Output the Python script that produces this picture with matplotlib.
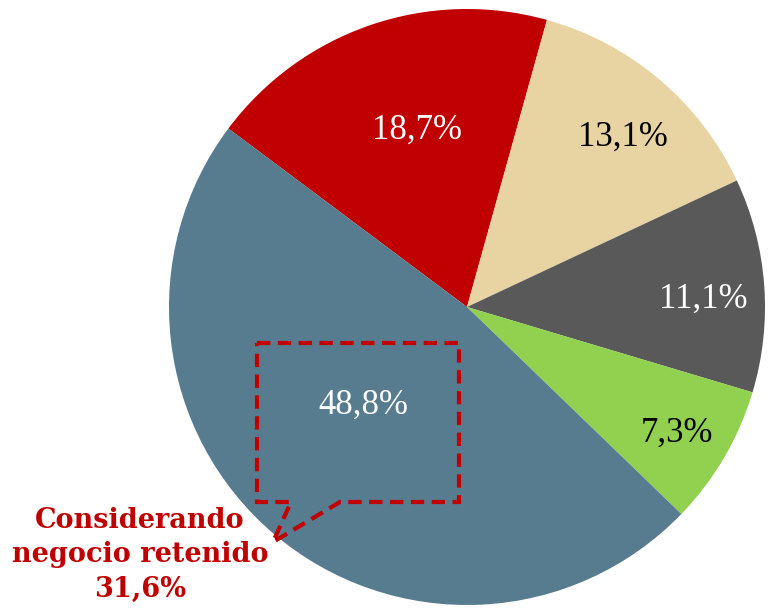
import matplotlib
matplotlib.use("Agg")
import matplotlib.pyplot as plt
from matplotlib.patches import Polygon

# Data (wedge sizes as drawn in the picture; labels as printed)
labels = ["18,7%", "13,1%", "11,1%", "7,3%", "48,8%"]
wedge_sizes = [19.1, 13.7, 11.6, 7.6, 48.0]
colors = ["#C00000", "#E8D3A2", "#595959", "#92D050", "#577C8F"]
label_colors = ["white", "black", "white", "black", "white"]
callout_text = "Considerando\nnegocio retenido\n31,6%"

W, H = 772, 610
fig = plt.figure(figsize=(W / 100, H / 100), dpi=100)
fig.patch.set_facecolor("white")

# pie centre at px (467,307), radius 298 px
cx, cy, R = 467, 307, 298
ax = fig.add_axes([(cx - R) / W, (H - cy - R) / H, 2 * R / W, 2 * R / H])

wedges, _ = ax.pie(wedge_sizes, colors=colors, startangle=143.2,
                   counterclock=False, radius=1.0,
                   wedgeprops=dict(linewidth=0))
ax.set_xlim(-1, 1)
ax.set_ylim(-1, 1)
ax.set_aspect("equal")
ax.axis("off")

def px2d(px, py):
    return ((px - cx) / R, (cy - py) / R)

label_px = [(417, 130), (623, 137), (703, 299), (677, 433), (363, 405)]
for lab, (px, py), c in zip(labels, label_px, label_colors):
    x, y = px2d(px, py)
    ax.text(x, y, lab, ha="center", va="center", color=c,
            fontsize=25, family="Liberation Serif")

# dashed callout
pts_px = [(257, 343), (459, 343), (459, 502), (340, 502), (273, 542),
          (291, 502), (257, 502)]
pts = [px2d(*p) for p in pts_px]
poly = Polygon(pts, closed=True, fill=False, edgecolor="#C00000",
               linewidth=3, linestyle=(0, (3.2, 1.8)), clip_on=False,
               joinstyle="miter")
ax.add_patch(poly)

fig.text(140 / W, (H - 555) / H, callout_text, ha="center", va="center",
         color="#C00000", fontsize=19.5, fontweight="bold",
         family="DejaVu Serif", linespacing=1.35)

fig.savefig("out.png", dpi=100)
